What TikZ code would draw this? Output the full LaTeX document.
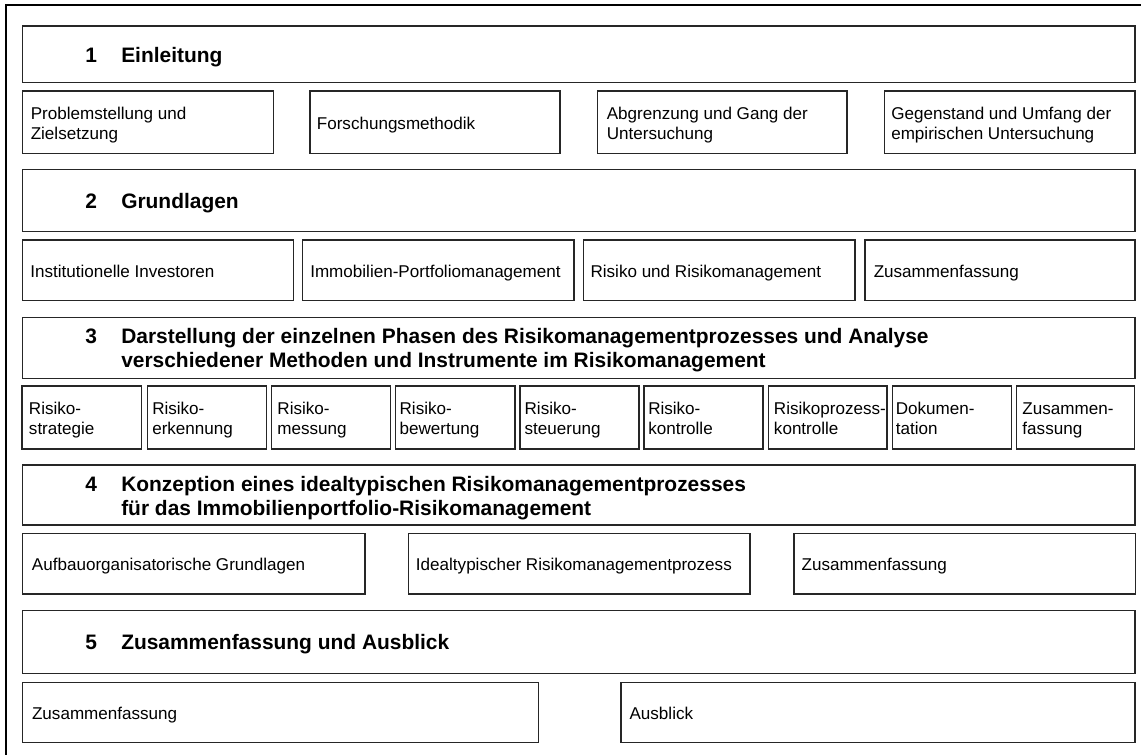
\documentclass[tikz,border=0pt]{standalone}
\usepackage{fontspec}
\setmainfont{Liberation Sans}
\usetikzlibrary{fit}
% stacked lines, baseline on the first line
\newcommand\ml[1]{\begin{tabular}[t]{@{}l@{}}#1\end{tabular}}
\begin{document}
\begin{tikzpicture}[x=0.75pt, y=-0.75pt,
  frame/.style={line width=1.5pt, line join=miter},
  box/.style={draw=black!85, line width=1.1pt, inner sep=0pt, rectangle},
  txt/.style={anchor=base west, inner sep=0pt, font=\fontsize{12.8}{15}\selectfont},
  num/.style={anchor=base west, inner sep=0pt, font=\fontsize{15.7}{18}\selectfont\bfseries},
  head/.style={num}]
\useasboundingbox (0,0) rectangle (1141,755);
\draw[frame] (6,760) -- (6,5) -- (1146,5);

% ---- Chapter 1
\node[box, fit={(22.5,26) (1135,82.7)}] (h1) {};
\node[num]  (h1n) at (85,62.3)  {1};
\node[head] (h1t) at (121,62.3) {Einleitung};

\node[box, fit={(22.5,91) (273.3,153.3)}] (c11) {};
\node[txt] (c11t) at (30.5,119.2) {\ml{Problemstellung und\\Zielsetzung}};
\node[box, fit={(310,91) (560,153.3)}] (c12) {};
\node[txt] (c12t) at (316.6,129.2) {Forschungsmethodik};
\node[box, fit={(597.7,91) (847,153.3)}] (c13) {};
\node[txt] (c13t) at (606.5,119.2) {\ml{Abgrenzung und Gang der\\Untersuchung}};
\node[box, fit={(884.3,91) (1135,153.3)}] (c14) {};
\node[txt] (c14t) at (891,119.2) {\ml{Gegenstand und Umfang der\\empirischen Untersuchung}};

% ---- Chapter 2
\node[box, fit={(22.5,169.5) (1135,231.7)}] (h2) {};
\node[num]  (h2n) at (85,208.8)  {2};
\node[head] (h2t) at (121,208.8) {Grundlagen};

\node[box, fit={(22.3,240) (293.3,300.7)}] (c21) {};
\node[txt] (c21t) at (30,277.3) {Institutionelle Investoren};
\node[box, fit={(302.7,240) (574,300.7)}] (c22) {};
\node[txt] (c22t) at (310,277.3) {Immobilien-Portfoliomanagement};
\node[box, fit={(583.3,240) (855,300.7)}] (c23) {};
\node[txt] (c23t) at (590.3,277.3) {Risiko und Risikomanagement};
\node[box, fit={(865,240) (1135,300.7)}] (c24) {};
\node[txt] (c24t) at (873.5,277.3) {Zusammenfassung};

% ---- Chapter 3
\node[box, fit={(22.5,317.3) (1135,378.3)}] (h3) {};
\node[num]  (h3n) at (85,343.8)  {3};
\node[head] (h3t) at (121,343.8) {\ml{Darstellung der einzelnen Phasen des Risikomanagementprozesses und Analyse\\verschiedener Methoden und Instrumente im Risikomanagement}};

\node[box, fit={(22,386) (141.7,449)}] (c31) {};
\node[txt] (c31t) at (28.7,414.5) {\ml{Risiko-\\strategie}};
\node[box, fit={(147.7,386) (266.7,449)}] (c32) {};
\node[txt] (c32t) at (152,414.5) {\ml{Risiko-\\erkennung}};
\node[box, fit={(271.7,386) (390.7,449)}] (c33) {};
\node[txt] (c33t) at (277.2,414.5) {\ml{Risiko-\\messung}};
\node[box, fit={(395.7,386) (515,449)}] (c34) {};
\node[txt] (c34t) at (399.4,414.5) {\ml{Risiko-\\bewertung}};
\node[box, fit={(520,386) (639,449)}] (c35) {};
\node[txt] (c35t) at (524.4,414.5) {\ml{Risiko-\\steuerung}};
\node[box, fit={(644,386) (763,449)}] (c36) {};
\node[txt] (c36t) at (648,414.5) {\ml{Risiko-\\kontrolle}};
\node[box, fit={(768.7,386) (887,449)}] (c37) {};
\node[txt] (c37t) at (773.7,414.5) {\ml{Risikoprozess-\\kontrolle}};
\node[box, fit={(892.7,386) (1011.7,449)}] (c38) {};
\node[txt] (c38t) at (895.5,414.5) {\ml{Dokumen-\\tation}};
\node[box, fit={(1016.7,386) (1134.5,449)}] (c39) {};
\node[txt] (c39t) at (1022.2,414.5) {\ml{Zusammen-\\fassung}};

% ---- Chapter 4
\node[box, fit={(22.5,465) (1135,525)}] (h4) {};
\node[num]  (h4n) at (85,491)  {4};
\node[head] (h4t) at (121,491) {\ml{Konzeption eines idealtypischen Risikomanagementprozesses\\für das Immobilienportfolio-Risikomanagement}};

\node[box, fit={(22.5,533.3) (365,594)}] (c41) {};
\node[txt] (c41t) at (31.7,570.7) {Aufbauorganisatorische Grundlagen};
\node[box, fit={(408.3,533.3) (750,594)}] (c42) {};
\node[txt] (c42t) at (415.7,570.7) {Idealtypischer Risikomanagementprozess};
\node[box, fit={(794,533.3) (1135.5,594)}] (c43) {};
\node[txt] (c43t) at (801.4,570.7) {Zusammenfassung};

% ---- Chapter 5
\node[box, fit={(22.5,610.5) (1135,673.3)}] (h5) {};
\node[num]  (h5n) at (85,649.9)  {5};
\node[head] (h5t) at (121,649.9) {Zusammenfassung und Ausblick};

\node[box, fit={(22.5,682.3) (538.3,742.7)}] (c51) {};
\node[txt] (c51t) at (31.8,719.5) {Zusammenfassung};
\node[box, fit={(621,682.3) (1135,742.7)}] (c52) {};
\node[txt] (c52t) at (629.3,719.5) {Ausblick};
\end{tikzpicture}
\end{document}
